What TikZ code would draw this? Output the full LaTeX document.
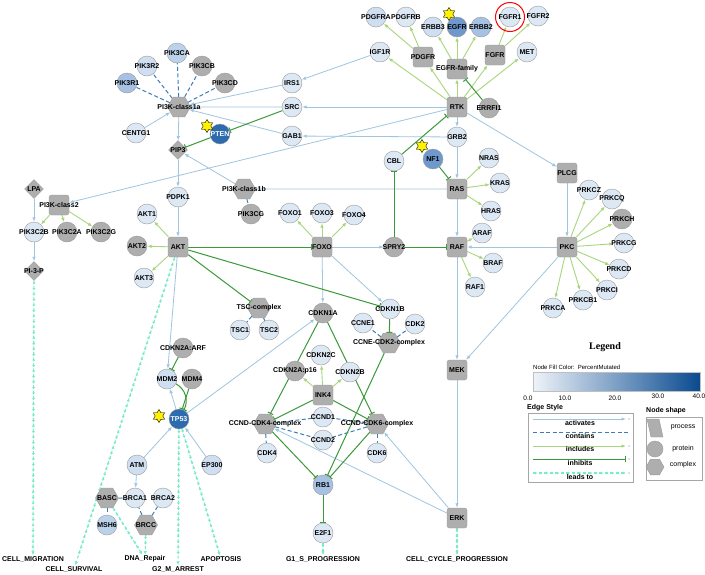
\documentclass[tikz,border=0pt]{standalone}
\usepackage{fontspec}
\setmainfont{Liberation Sans}
\newfontfamily\serf{Liberation Serif}
\usetikzlibrary{shapes.geometric,arrows.meta,decorations.markings}
\pgfdeclarelayer{bg}
\pgfsetlayers{bg,main}
\definecolor{grayn}{HTML}{AEAEAE}
\definecolor{bordc}{HTML}{9B9B9B}
\definecolor{ca}{HTML}{DDE8F5}
\definecolor{cb}{HTML}{CFDFF1}
\definecolor{cc}{HTML}{BCD2EA}
\definecolor{cd}{HTML}{A6C1E3}
\definecolor{ce}{HTML}{6F98CC}
\definecolor{cf}{HTML}{2D6BAF}
\definecolor{actc}{HTML}{9FC6E0}
\definecolor{contc}{HTML}{3B7DBA}
\definecolor{inclc}{HTML}{A8D67C}
\definecolor{inhc}{HTML}{3A9A3A}
\definecolor{leadc}{HTML}{78ECC8}
\definecolor{gmin}{HTML}{EEF3FA}
\definecolor{gmax}{HTML}{0A4A90}
\newcommand{\zb}[1]{\makebox[0pt]{#1}}
\newcommand{\nfont}{\fontsize{7}{8}\selectfont\bfseries}
\begin{document}
\begin{tikzpicture}[x=1pt,y=-1pt,
  base/.style={inner sep=0pt, font=\nfont, text=black},
  prot/.style={base, circle, minimum size=20pt, fill=#1, draw=bordc, line width=0.4pt},
  prot/.default=ca,
  procbox/.style={base, rectangle, rounded corners=2.5pt, minimum size=20pt, fill=grayn, draw=bordc, line width=0.4pt},
  cplx/.style={base, regular polygon, regular polygon sides=6, minimum size=23pt, fill=grayn, draw=bordc, line width=0.4pt},
  dia/.style={base, diamond, minimum width=19pt, minimum height=19pt, fill=grayn, draw=bordc, line width=0.4pt},
  starn/.style={star, star points=6, star point ratio=1.7, minimum size=13pt, inner sep=0pt, fill=yellow, draw=black, line width=0.4pt},
  txt/.style={font=\nfont, inner sep=1pt},
  act/.style={draw=actc, line width=0.8pt, -{Latex[length=4.5pt,width=3.5pt]}},
  incl/.style={draw=inclc, line width=0.9pt, -{Latex[length=4.5pt,width=3.5pt]}},
  cont/.style={draw=contc, line width=1pt, dash pattern=on 4pt off 2.5pt},
  inh/.style={draw=inhc, line width=1pt, -{Bar[width=6pt]}},
  lead/.style={draw=leadc, line width=1.1pt, dash pattern=on 3pt off 2.5pt,
    -{Latex[length=3.5pt,width=3.5pt]},
    postaction={decorate, decoration={markings,
      mark=between positions 4pt and -6pt step 5.5pt with {\arrow[leadc]{Latex[length=2pt,width=3.2pt]}}}}},
  lgt/.style={font=\fontsize{7}{8}\selectfont\bfseries, inner sep=0pt},
  lgn/.style={font=\fontsize{7}{8}\selectfont, inner sep=0pt}
]
\useasboundingbox (0,0) rectangle (705,574);

% ---------- PI3K class 1a region
\node[cplx] (pi3k1a) at (179,107) {\zb{PI3K-class1a}};
\node[prot=cc] (pik3ca) at (177,53) {\zb{PIK3CA}};
\node[prot=cb] (pik3r2) at (147,66) {\zb{PIK3R2}};
\node[prot=grayn] (pik3cb) at (202,66) {\zb{PIK3CB}};
\node[prot=cd] (pik3r1) at (127,83) {\zb{PIK3R1}};
\node[prot=grayn] (pik3cd) at (225,83) {\zb{PIK3CD}};
\node[prot] (centg1) at (136,133) {\zb{CENTG1}};
\node[prot=cf, text=white] (pten) at (220,134) {\zb{PTEN}};
\node[starn] (st1) at (207,126) {};
\node[dia] (pip3) at (178,150) {\zb{PIP3}};
\node[prot] (pdpk1) at (178,197) {\zb{PDPK1}};
\node[cplx] (pi3k1b) at (244,189) {\zb{PI3K-class1b}};
\node[prot=grayn] (pik3cg) at (251,214) {\zb{PIK3CG}};

% ---------- PI3K class 2
\node[dia] (lpa) at (34,189) {\zb{LPA}};
\node[procbox] (pi3k2) at (59,205) {\zb{PI3K-class2}};
\node[prot] (pik3c2b) at (34,232) {\zb{PIK3C2B}};
\node[prot=grayn] (pik3c2a) at (67,232) {\zb{PIK3C2A}};
\node[prot=grayn] (pik3c2g) at (101,232) {\zb{PIK3C2G}};
\node[dia] (pi3p) at (34,271) {\zb{PI-3-P}};

% ---------- AKT
\node[prot] (akt1) at (147,214) {\zb{AKT1}};
\node[prot=grayn] (akt2) at (137,246) {\zb{AKT2}};
\node[procbox] (akt) at (178,247) {\zb{AKT}};
\node[prot] (akt3) at (144,278) {\zb{AKT3}};

% ---------- RTK region
\node[prot] (irs1) at (292,83) {\zb{IRS1}};
\node[prot] (src) at (292,107) {\zb{SRC}};
\node[prot] (gab1) at (292,136) {\zb{GAB1}};
\node[prot] (igf1r) at (380,52) {\zb{IGF1R}};
\node[prot=cb] (pdgfra) at (376,17) {\zb{PDGFRA}};
\node[prot] (pdgfrb) at (406,17) {\zb{PDGFRB}};
\node[procbox] (pdgfr) at (423,57) {\zb{PDGFR}};
\node[prot=cb] (erbb3) at (433,27) {\zb{ERBB3}};
\node[prot=ce] (egfr) at (457,27) {\zb{EGFR}};
\node[prot=cd] (erbb2) at (481,27) {\zb{ERBB2}};
\node[starn] (st2) at (449,14) {};
\node[procbox] (egfrfam) at (457,69) {\zb{EGFR-family}};
\node[prot] (fgfr1) at (510,17) {\zb{FGFR1}};
\node[circle, draw=red, line width=1pt, minimum size=29pt, inner sep=0pt] (mark) at (510,17) {};
\node[prot] (fgfr2) at (538,16) {\zb{FGFR2}};
\node[procbox] (fgfr) at (495,55) {\zb{FGFR}};
\node[prot] (met) at (527,52) {\zb{MET}};
\node[procbox] (rtk) at (457,107) {\zb{RTK}};
\node[prot=grayn] (errfi1) at (489,108) {\zb{ERRFI1}};
\node[prot] (grb2) at (457,137) {\zb{GRB2}};
\node[prot] (cbl) at (394,161) {\zb{CBL}};
\node[prot=ce] (nf1) at (433,159) {\zb{NF1}};
\node[starn] (st3) at (422,146) {};

% ---------- RAS / RAF / PKC
\node[procbox] (ras) at (457,189) {\zb{RAS}};
\node[prot] (nras) at (489,158) {\zb{NRAS}};
\node[prot] (kras) at (500,183) {\zb{KRAS}};
\node[prot] (hras) at (491,211) {\zb{HRAS}};
\node[procbox] (raf) at (457,247) {\zb{RAF}};
\node[prot] (araf) at (482,233) {\zb{ARAF}};
\node[prot] (braf) at (493,263) {\zb{BRAF}};
\node[prot] (raf1) at (475,287) {\zb{RAF1}};
\node[procbox] (plcg) at (567,173) {\zb{PLCG}};
\node[procbox] (pkc) at (567,247) {\zb{PKC}};
\node[prot] (prkcz) at (589,190) {\zb{PRKCZ}};
\node[prot] (prkcq) at (612,199) {\zb{PRKCQ}};
\node[prot=grayn] (prkch) at (622,219) {\zb{PRKCH}};
\node[prot] (prkcg) at (624,243) {\zb{PRKCG}};
\node[prot] (prkcd) at (619,269) {\zb{PRKCD}};
\node[prot] (prkci) at (607,290) {\zb{PRKCI}};
\node[prot] (prkcb1) at (583,300) {\zb{PRKCB1}};
\node[prot] (prkca) at (553,308) {\zb{PRKCA}};
\node[procbox] (mek) at (457,370) {\zb{MEK}};
\node[procbox] (erk) at (457,518) {\zb{ERK}};

% ---------- FOXO / cell cycle
\node[prot] (foxo1) at (290,213) {\zb{FOXO1}};
\node[prot] (foxo3) at (322,213) {\zb{FOXO3}};
\node[prot] (foxo4) at (354,215) {\zb{FOXO4}};
\node[procbox] (foxo) at (322,247) {\zb{FOXO}};
\node[prot=grayn] (spry2) at (394,247) {\zb{SPRY2}};
\node[cplx] (tsc) at (259,308) {\zb{TSC-complex}};
\node[prot] (tsc1) at (240,330) {\zb{TSC1}};
\node[prot] (tsc2) at (269,330) {\zb{TSC2}};
\node[prot=grayn] (cdkn1a) at (323,313) {\zb{CDKN1A}};
\node[prot] (cdkn1b) at (390,309) {\zb{CDKN1B}};
\node[prot] (ccne1) at (363,323) {\zb{CCNE1}};
\node[prot] (cdk2) at (415,324) {\zb{CDK2}};
\node[cplx] (cdk2c) at (389,343) {\zb{CCNE-CDK2-complex}};
\node[prot] (cdkn2c) at (321,355) {\zb{CDKN2C}};
\node[prot=grayn] (p16) at (295,371) {\zb{CDKN2A:p16}};
\node[prot] (cdkn2b) at (350,372) {\zb{CDKN2B}};
\node[procbox] (ink4) at (323,395) {\zb{INK4}};
\node[prot] (ccnd1) at (323,417) {\zb{CCND1}};
\node[prot] (ccnd2) at (323,440) {\zb{CCND2}};
\node[cplx] (cdk4c) at (265,424) {\zb{CCND-CDK4-complex}};
\node[cplx] (cdk6c) at (377,424) {\zb{CCND-CDK6-complex}};
\node[prot] (cdk4) at (267,453) {\zb{CDK4}};
\node[prot] (cdk6) at (377,453) {\zb{CDK6}};
\node[prot=cd] (rb1) at (323,485) {\zb{RB1}};
\node[prot] (e2f1) at (323,533) {\zb{E2F1}};

% ---------- TP53 region
\node[prot=grayn] (arf) at (183,348) {\zb{CDKN2A:ARF}};
\node[prot=cb] (mdm2) at (167,379) {\zb{MDM2}};
\node[prot=grayn] (mdm4) at (192,379) {\zb{MDM4}};
\node[prot=cf, text=white] (tp53) at (179,419) {\zb{TP53}};
\node[starn] (st4) at (159,416) {};
\node[prot=cb] (atm) at (137,465) {\zb{ATM}};
\node[prot=cb] (ep300) at (212,465) {\zb{EP300}};
\node[cplx] (basc) at (107,498) {\zb{BASC}};
\node[prot] (brca1) at (135,498) {\zb{BRCA1}};
\node[prot] (brca2) at (163,498) {\zb{BRCA2}};
\node[prot=cc] (msh6) at (107,525) {\zb{MSH6}};
\node[cplx] (brcc) at (146,525) {\zb{BRCC}};

% ---------- outcomes
\node[txt] (cellmig) at (33,559) {CELL\_MIGRATION};
\node[txt] (cellsurv) at (74,569) {CELL\_SURVIVAL};
\node[txt] (dnarep) at (145,559) {DNA\_Repair};
\node[txt] (g2m) at (178,569) {G2\_M\_ARREST};
\node[txt] (apop) at (221,559) {APOPTOSIS};
\node[txt] (g1s) at (323,559) {G1\_S\_PROGRESSION};
\node[txt] (ccp) at (457,559) {CELL\_CYCLE\_PROGRESSION};

% ---------- edges
\begin{pgfonlayer}{bg}
\fill[white] (0,0) rectangle (705,574);
% contains
\foreach \t in {pik3ca,pik3r2,pik3cb,pik3r1,pik3cd} \draw[cont] (pi3k1a) -- (\t);
\draw[cont] (pi3k1b) -- (pik3cg);
\draw[cont] (tsc) -- (tsc1);
\draw[cont] (tsc) -- (tsc2);
\draw[cont] (cdk2c) -- (ccne1);
\draw[cont] (cdk2c) -- (cdk2);
\foreach \t in {ccnd1,ccnd2,cdk4} \draw[cont] (cdk4c) -- (\t);
\foreach \t in {ccnd1,ccnd2,cdk6} \draw[cont] (cdk6c) -- (\t);
\draw[cont] (basc) -- (brca1);
\draw[cont] (basc) -- (msh6);
\draw[cont] (brcc) -- (brca1);
\draw[cont] (brcc) -- (brca2);
% includes
\draw[incl] (pdgfr) -- (pdgfra);
\draw[incl] (pdgfr) -- (pdgfrb);
\foreach \t in {erbb3,egfr,erbb2} \draw[incl] (egfrfam) -- (\t);
\draw[incl] (fgfr) -- (fgfr1);
\draw[incl] (fgfr) -- (fgfr2);
\foreach \t in {igf1r,pdgfr,egfrfam,fgfr,met} \draw[incl] (rtk) -- (\t);
\foreach \t in {pik3c2b,pik3c2a,pik3c2g} \draw[incl] (pi3k2) -- (\t);
\foreach \t in {akt1,akt2,akt3} \draw[incl] (akt) -- (\t);
\foreach \t in {foxo1,foxo3,foxo4} \draw[incl] (foxo) -- (\t);
\foreach \t in {nras,kras,hras} \draw[incl] (ras) -- (\t);
\foreach \t in {araf,braf,raf1} \draw[incl] (raf) -- (\t);
\foreach \t in {prkcz,prkcq,prkch,prkcg,prkcd,prkci,prkcb1,prkca} \draw[incl] (pkc) -- (\t);
\foreach \t in {p16,cdkn2c,cdkn2b} \draw[incl] (ink4) -- (\t);
% activates
\draw[act] (centg1) -- (pi3k1a);
\draw[act] (irs1) -- (pi3k1a);
\draw[act] (src) -- (pi3k1a);
\draw[act] (gab1) -- (pi3k1a);
\draw[act] (pi3k1a) -- (pip3);
\draw[act] (pip3) -- (pdpk1);
\draw[act] (pdpk1) -- (akt);
\draw[act] (pi3k1b) -- (pip3);
\draw[act] (igf1r) -- (irs1);
\draw[act] (rtk) -- (src);
\draw[act] (grb2) -- (gab1);
\draw[act] (rtk) -- (grb2);
\draw[act] (grb2) -- (ras);
\draw[act] (rtk) -- (pi3k2);
\draw[act] (rtk) -- (plcg);
\draw[act] (plcg) -- (pkc);
\draw[act] (pkc) -- (raf);
\draw[act] (pkc) -- (mek);
\draw[act] (ras) -- (raf);
\draw[act] (ras) -- (pi3k1b);
\draw[act] (raf) -- (mek);
\draw[act] (mek) -- (erk);
\draw[act] (erk) -- (cdk4c);
\draw[act] (erk) -- (cdk6c);
\draw[act] (akt) -- (mdm2);
\draw[act] (tp53) -- (mdm2);
\draw[act] (tp53) -- (cdkn1a);
\draw[act] (atm) -- (tp53);
\draw[act] (ep300) -- (tp53);
\draw[act] (atm) -- (brca1);
\draw[act] (foxo) -- (cdkn1a);
\draw[act] (foxo) -- (cdkn1b);
\draw[act] (foxo) -- (spry2);
\draw[act] (lpa) -- (pik3c2b);
\draw[act] (pik3c2b) -- (pi3p);
% inhibits
\draw[inh] (pten) -- (pip3);
\draw[inh] (src) -- (pten);
\draw[inh] (errfi1) -- (egfrfam);
\draw[inh] (cbl) -- (rtk);
\draw[inh] (nf1) -- (ras);
\draw[inh] (spry2) -- (raf);
\draw[inh] (spry2) -- (cbl);
\draw[inh] (akt) -- (foxo);
\draw[inh] (akt) -- (tsc);
\draw[inh] (akt) -- (cdkn1b);
\draw[inh] (cdkn1b) -- (cdk2c);
\draw[inh] (cdkn1a) -- (cdk4c);
\draw[inh] (cdkn1a) -- (cdk6c);
\draw[inh] (ink4) -- (cdk4c);
\draw[inh] (ink4) -- (cdk6c);
\draw[inh] (cdk4c) -- (rb1);
\draw[inh] (cdk6c) -- (rb1);
\draw[inh] (cdk2c) -- (rb1);
\draw[inh] (rb1) -- (e2f1);
\draw[inh] (arf) -- (mdm2);
\draw[inh] (mdm2) to[bend left=45] (tp53);
\draw[inh] (mdm4) -- (tp53);
% leads to
\draw[lead] (pi3p) -- (cellmig);
\draw[lead] (akt) -- (cellsurv);
\draw[lead] (basc) -- (dnarep);
\draw[lead] (brcc) -- (dnarep);
\draw[lead] (tp53) -- (g2m);
\draw[lead] (tp53) -- (apop);
\draw[lead] (e2f1) -- (g1s);
\draw[lead] (erk) -- (ccp);
\end{pgfonlayer}

% ---------- legend
\node[font=\serf\bfseries\fontsize{10}{12}\selectfont, inner sep=0pt] (legt) at (605,347) {Legend};
\node[font=\fontsize{6}{7}\selectfont, anchor=west, inner sep=0pt] (nfc) at (533,367) {Node Fill Color:\ \ PercentMutated};
\shade[left color=gmin, right color=gmax] (533,372) rectangle (700,391);
\draw[gray!50, line width=0.3pt] (533,372) rectangle (700,391);
\node[font=\fontsize{6.5}{7}\selectfont, inner sep=0pt] (g0) at (528,398) {0.0};
\node[font=\fontsize{6.5}{7}\selectfont, inner sep=0pt] (g10) at (565,398) {10.0};
\node[font=\fontsize{6.5}{7}\selectfont, inner sep=0pt] (g20) at (615,398) {20.0};
\node[font=\fontsize{6.5}{7}\selectfont, inner sep=0pt] (g30) at (658,396) {30.0};
\node[font=\fontsize{6.5}{7}\selectfont, inner sep=0pt] (g40) at (699,396) {40.0};
\node[lgt, anchor=west] (est) at (527,408) {Edge Style};
\draw[gray!70, line width=0.5pt] (528,413) rectangle (633,482);
\coordinate (a1) at (533,419); \coordinate (a2) at (626,419);
\coordinate (b1) at (533,432); \coordinate (b2) at (630,432);
\coordinate (c1) at (533,446); \coordinate (c2) at (626,446);
\coordinate (d1) at (533,459); \coordinate (d2) at (626,459);
\coordinate (e1) at (533,473); \coordinate (e2) at (626,473);
\draw[act] (a1) -- (a2);
\draw[cont] (b1) -- (b2);
\draw[incl] (c1) -- (c2);
\draw[inh] (d1) -- (d2);
\draw[lead] (e1) -- (e2);
\foreach \yy in {419,446,459,473} \fill[gray] (629,\yy) circle (0.7pt);
\node[lgt] (la) at (580,422.5) {activates};
\node[lgt] (lb) at (580,436) {contains};
\node[lgt] (lc) at (580,449) {includes};
\node[lgt] (ld) at (580,462.5) {inhibits};
\node[lgt] (le) at (580,477) {leads to};
\node[lgt, anchor=west] (nst) at (646,411) {Node shape};
\draw[gray!70, line width=0.5pt] (646,417) rectangle (702,480);
\filldraw[fill=grayn, draw=bordc, line width=0.4pt] (647,419) -- (659,419) -- (663,437) -- (651,437) -- cycle;
\filldraw[fill=grayn, draw=bordc, line width=0.4pt] (655,449) circle (8pt);
\node[regular polygon, regular polygon sides=6, minimum size=18pt, inner sep=0pt, fill=grayn, draw=bordc, line width=0.4pt] (hx) at (655,467) {};
\node[lgn] (lp1) at (683,427) {process};
\node[lgn] (lp2) at (683,449) {protein};
\node[lgn] (lp3) at (683,465) {complex};
\end{tikzpicture}
\end{document}
